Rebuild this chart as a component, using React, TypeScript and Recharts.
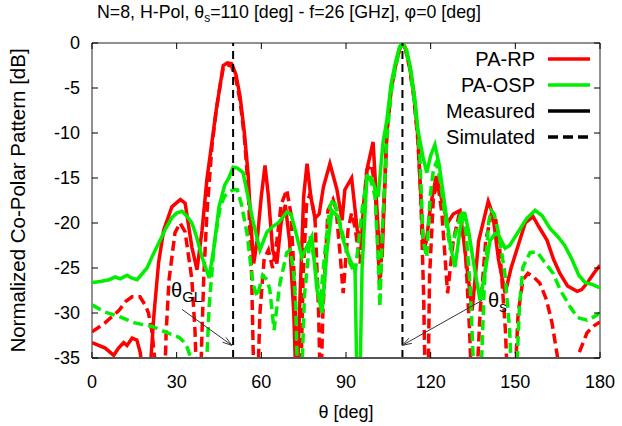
import React from 'react';
import { LineChart, Line, XAxis, YAxis, ReferenceLine, ReferenceArea, Legend } from 'recharts';

const FONT = '"Liberation Sans", Arial, Helvetica, sans-serif';
const RED = '#ff0000';
const GREEN = '#00ee00';

// plot box in page pixels (only used for the mirrored tick marks)
const PL = 92;
const PR = 600;
const PT = 43;
const PB = 358;

// PA-RP, measured (values below -35 fall off the bottom)
const rpMeasTheta = [0, 4.7, 7.7, 9.4, 11.2, 12.4, 14.2, 15.9, 17.1, 17.7, 19.8, 22, 23.6, 25.4, 28.3, 31.3, 33, 35.4, 37.2, 39, 40.7, 42.5, 44, 45.5, 46.5, 48, 49.5, 51, 52.5, 54, 55.3, 56.3, 57.3, 58.5, 60, 61.3, 62.5, 64, 65.5, 67, 68.5, 70, 71.5, 72.5, 73.5, 75, 76.2, 77.5, 79, 80.5, 82, 84.3, 86.8, 88.6, 89.6, 92, 94, 95.7, 97.4, 99.6, 101.4, 102.8, 104.5, 106, 107.5, 109, 110, 111, 112.5, 114, 115.5, 116.5, 117.5, 118.5, 120, 122, 124, 126, 128, 130.4, 132.5, 134.7, 137, 140.4, 142, 144, 146.4, 148.5, 151, 153.5, 156.3, 158.5, 161.2, 163.5, 165.8, 168.5, 171.9, 173.5, 175.4, 178, 180];
const rpMeasDb = [-33.3, -33.9, -34.7, -33.9, -33.3, -33.6, -32.8, -33, -34.4, -36, -40, -30, -24.4, -20.8, -18.2, -17.4, -17.8, -22.7, -25.2, -20.8, -15.2, -11, -7.5, -4.5, -2.5, -2.2, -2.3, -3.5, -6, -10, -14.5, -20, -24.5, -22, -17, -13.6, -17, -23, -24.5, -20, -18, -22, -30, -40, -30, -17, -13.4, -17, -19.5, -19, -16, -13.4, -16.3, -19.7, -16.3, -15, -20.8, -21.9, -14.1, -11, -20.8, -23.8, -9.7, -5, -2.5, -0.6, 0, -0.5, -2.5, -5.5, -10.5, -17, -23, -22, -18, -14.8, -17.5, -20, -19, -18.6, -24, -29.7, -22, -17.6, -19, -24, -27.8, -25, -22.5, -20, -19.3, -20.5, -21.9, -24, -25.6, -27, -27.6, -27.4, -26.7, -25.5, -24.7];

// PA-RP, simulated
const rpSimTheta = [0, 4.6, 9.6, 12, 14.2, 17, 19, 20, 21.2, 22.2, 23, 25.5, 26.3, 27.3, 29.4, 31.2, 33, 35.4, 36.5, 37.3, 38.2, 39.6, 40.7, 42.5, 44, 45.5, 46.5, 48, 49.5, 51, 52.5, 54, 55.3, 56.5, 57.5, 58.5, 59.5, 61, 62.5, 64, 65.5, 67, 69, 70.5, 71.8, 72.8, 73.8, 74.8, 76, 77.3, 79, 80.3, 81, 81.8, 83.6, 85.4, 86.5, 88, 89, 90.7, 92, 93.2, 95, 96.2, 97.4, 99, 100.3, 101.4, 102, 102.8, 104.5, 106, 107.5, 109, 110, 111, 112.5, 114, 115.5, 116.5, 117.5, 118.2, 119, 119.6, 121, 122.5, 124, 126, 128, 130.4, 132.3, 133.8, 134.7, 136, 137.5, 139.5, 141.5, 143, 144.5, 146.5, 147.5, 149.5, 151, 152.7, 154.5, 156.5, 158.7, 161, 163, 165, 166, 171, 172.5, 175.4, 178, 180];
const rpSimDb = [-32.1, -31.1, -29.7, -28.7, -28.2, -28.2, -29.2, -30, -32, -35, -40, -40, -32, -26.3, -21.1, -20, -21, -26.3, -32, -40, -40, -26, -19, -11.5, -7.5, -4.5, -2.8, -2.4, -2.6, -4, -6.5, -10.5, -16, -25, -40, -40, -30, -24, -23, -25, -22, -18, -16.3, -19, -27, -40, -40, -26, -18, -16.7, -19.3, -30, -40, -30, -18.6, -17.4, -18.5, -23.8, -27.8, -20.8, -18.9, -20.5, -24.5, -18, -14.1, -13.5, -16, -23.3, -27.4, -22, -10, -5.2, -2.6, -0.7, 0, -0.6, -2.7, -6, -11, -17, -28, -40, -40, -26, -17, -15.5, -19, -27.8, -22, -18.6, -23, -32, -40, -40, -30, -22, -19, -19.5, -23, -32, -40, -40, -30, -26.3, -25.6, -26, -26.7, -28.5, -31.1, -35, -40, -40, -34.5, -32.2, -31.4, -31];

// PA-OSP, measured
const ospMeasTheta = [0, 3, 6, 8.3, 10, 12.4, 14, 16, 19.5, 21.5, 23.7, 26, 28.3, 30, 31.9, 33.5, 35.4, 37, 39, 41.5, 43.2, 45, 47, 48.5, 50, 51.5, 53.5, 55.3, 57, 59.5, 62, 64, 66, 69, 70.5, 72.6, 74.4, 76, 77.9, 79.7, 81.5, 83.3, 85, 87.2, 89, 91.4, 93.2, 94, 94.8, 95.7, 97.4, 99, 101.4, 103.1, 104.5, 106, 107.5, 109, 110, 111.5, 113, 114.5, 115.5, 117.3, 118.6, 120, 121.5, 123, 125, 127, 128.6, 130.5, 132, 133.5, 135.5, 137.5, 139.5, 141, 142.8, 144, 146.4, 148, 151, 154, 157, 159.5, 162.3, 165, 167.5, 170, 172.5, 174.7, 177, 180];
const ospMeasDb = [-26.6, -26.5, -26.3, -26, -26.2, -25.8, -26.1, -26.3, -25, -23.6, -22.2, -20.7, -19.4, -18.9, -18.7, -19.2, -20, -21.5, -23.8, -26.1, -22.7, -18.2, -15.8, -15, -13.8, -13.9, -14.4, -17.1, -19.7, -23, -21, -20.4, -20, -18.8, -19, -21.5, -23.8, -22.7, -21.5, -27.4, -30, -23, -18.6, -19.3, -21.9, -24.1, -25.2, -40, -40, -25, -14.9, -15, -17.1, -11.1, -8.5, -4.5, -2.2, -0.4, 0, -0.8, -3, -6.5, -9.7, -12.7, -14.4, -12.5, -11.3, -13.5, -18, -22.5, -24.9, -20.5, -18.8, -21, -25, -28.6, -25, -22, -21.2, -21.3, -22.8, -22.5, -21, -19.5, -18.6, -19.2, -20.6, -21.5, -22.5, -24, -25.8, -26.6, -26.8, -27.2];

// PA-OSP, simulated
const ospSimTheta = [0, 4.6, 9.6, 15.2, 21.3, 25.9, 30.8, 32.5, 33.7, 35, 36, 40, 41.5, 43.2, 45.4, 47, 48.5, 50, 51.5, 53, 54.9, 57, 58.5, 60.5, 62, 63, 64.5, 66.6, 69, 70.2, 71.3, 72.2, 73, 74, 75.3, 77.3, 79, 80.8, 82.6, 84.3, 85.5, 86.8, 89, 91.4, 93.2, 96, 97.8, 99, 100.3, 101.4, 102, 103, 104.5, 106, 107.5, 109, 110, 111, 112.5, 114, 115.5, 116.2, 117.3, 118.6, 119.8, 121, 122, 123.5, 125, 127, 129, 131, 132.5, 134, 135.7, 137.5, 139, 140.5, 141.4, 142.5, 144, 146.3, 148, 149, 150, 151.5, 152.7, 155.2, 157.7, 160, 163.4, 166, 169.4, 172, 175.4, 178, 180];
const ospSimDb = [-29.1, -29.9, -30.4, -31.1, -31.5, -32.1, -32.7, -33.2, -33.8, -35, -40, -40, -29.3, -22.7, -18.2, -17, -16.6, -16.3, -16.3, -18, -21.1, -26.7, -28.2, -25.8, -26.3, -27.4, -31.9, -26.7, -23.3, -23, -25, -29, -40, -40, -28, -21.5, -24.5, -29, -23, -18.2, -17.3, -18.6, -21.5, -24.5, -25.6, -17.8, -14.4, -15.5, -17.1, -24.1, -29.3, -20, -10.5, -5.5, -2.8, -0.7, 0, -0.5, -2.5, -6, -10, -12.7, -21.9, -23.8, -17.1, -14, -13.3, -15.5, -19, -23, -21, -18.6, -21, -27, -40, -40, -27, -20, -18.6, -19, -21, -25.6, -32, -40, -40, -29, -24.9, -23.3, -23.2, -24.2, -25.6, -27.5, -29.3, -30.5, -30.8, -30.4, -30];

const xTicks = [0, 30, 60, 90, 120, 150, 180];
const yTicks = [-35, -30, -25, -20, -15, -10, -5, 0];

// vertical markers: grating lobe direction and scan direction
const markerThetas = [50, 110];
// annotation arrows [tail, head] in (theta, dB)
const glArrow = [{ x: 31.9, y: -29.6 }, { x: 49.6, y: -33.6 }];
const sArrow = [{ x: 138.2, y: -28.6 }, { x: 109.9, y: -33.6 }];

const toPoints = (theta: number[], db: number[]) => theta.map((t, i) => ({ theta: t, db: db[i] }));
const rpMeas = toPoints(rpMeasTheta, rpMeasDb);
const rpSim = toPoints(rpSimTheta, rpSimDb);
const ospMeas = toPoints(ospMeasTheta, ospMeasDb);
const ospSim = toPoints(ospSimTheta, ospSimDb);

const legendRows = [
  { label: 'PA-RP', color: RED, dash: undefined },
  { label: 'PA-OSP', color: GREEN, dash: undefined },
  { label: 'Measured', color: '#000', dash: undefined },
  { label: 'Simulated', color: '#000', dash: '10 5' },
];

function YTick({ x, y, payload }: any) {
  return (
    <g>
      <text x={x} y={y} dy={6} textAnchor="end" fontSize={18} fontFamily={FONT} fill="#000">
        {payload.value}
      </text>
      <line x1={PL} x2={PL + 6} y1={y} y2={y} stroke="#000" />
      <line x1={PR - 6} x2={PR} y1={y} y2={y} stroke="#000" />
    </g>
  );
}

function XTick({ x, y, payload }: any) {
  return (
    <g>
      <text x={x} y={y} dy={30} textAnchor="middle" fontSize={18} fontFamily={FONT} fill="#000">
        {payload.value}
      </text>
      <line x1={x} x2={x} y1={PB} y2={PB - 6} stroke="#000" />
      <line x1={x} x2={x} y1={PT} y2={PT + 6} stroke="#000" />
    </g>
  );
}

// thin annotation arrow with an open head and a theta label at its tail
function makeArrow(sub: string, dx: number, dy: number) {
  return (props: any) => {
    const { x1, y1, x2, y2 } = props;
    const ang = Math.atan2(y2 - y1, x2 - x1);
    const len = 10;
    const spread = 0.3;
    const ax = x2 - len * Math.cos(ang - spread);
    const ay = y2 - len * Math.sin(ang - spread);
    const bx = x2 - len * Math.cos(ang + spread);
    const by = y2 - len * Math.sin(ang + spread);
    return (
      <g>
        <line x1={x1} y1={y1} x2={x2} y2={y2} stroke="#333" strokeWidth={1} />
        <polyline points={`${ax},${ay} ${x2},${y2} ${bx},${by}`} fill="none" stroke="#333" strokeWidth={1} />
        <text x={x1 + dx} y={y1 + dy} fontFamily={FONT} fill="#000">
          <tspan fontSize={20}>θ</tspan>
          <tspan fontSize={15} dy={5}>{sub}</tspan>
        </text>
      </g>
    );
  };
}

function LegendBox() {
  return (
    <svg width={180} height={110}>
      {legendRows.map((r, i) => {
        const cy = 14 + i * 26;
        return (
          <g key={r.label}>
            <text x={115} y={cy + 7} textAnchor="end" fontSize={20} fontFamily={FONT} fill="#000">
              {r.label}
            </text>
            <line x1={128} x2={170} y1={cy} y2={cy} stroke={r.color} strokeWidth={3.5} strokeDasharray={r.dash} />
          </g>
        );
      })}
    </svg>
  );
}

export default function App() {
  return (
    <div style={{ position: 'absolute', left: 0, top: 0, width: 622, height: 426, background: '#fff' }}>
      <div
        style={{
          position: 'absolute',
          left: 97,
          top: 2,
          fontFamily: FONT,
          fontSize: 17.8,
          lineHeight: '20px',
          whiteSpace: 'nowrap',
          color: '#000',
        }}
      >
        N=8, H-Pol, θ<sub style={{ fontSize: 12, verticalAlign: '-4px' }}>s</sub>=110 [deg] - f=26 [GHz], φ=0 [deg]
      </div>
      <LineChart width={622} height={426} margin={{ top: 43, right: 22, bottom: 38, left: 32 }}>
        <XAxis
          type="number"
          dataKey="theta"
          domain={[0, 180]}
          ticks={xTicks}
          allowDataOverflow
          height={30}
          tickSize={0}
          tickMargin={0}
          tick={<XTick />}
          axisLine={{ stroke: '#555', strokeWidth: 2 }}
          label={{
            content: ({ viewBox }: any) => (
              <text x={viewBox.x + viewBox.width / 2} y={418} textAnchor="middle" fontSize={18} fontFamily={FONT} fill="#000">
                θ [deg]
              </text>
            ),
          }}
        />
        <YAxis
          type="number"
          domain={[-35, 0]}
          ticks={yTicks}
          allowDataOverflow
          width={60}
          tickSize={0}
          tickMargin={12}
          tick={<YTick />}
          axisLine={false}
          label={{
            content: ({ viewBox }: any) => {
              const cy = viewBox.y + viewBox.height / 2;
              return (
                <text
                  x={25}
                  y={cy}
                  transform={`rotate(-90 25 ${cy})`}
                  textAnchor="middle"
                  fontSize={20.5}
                  fontFamily={FONT}
                  fill="#000"
                >
                  Normalized Co-Polar Pattern [dB]
                </text>
              );
            },
          }}
        />
        <ReferenceArea x1={0} x2={180} y1={-35} y2={0} fill="none" stroke="#222" strokeWidth={1} />
        <Line data={rpMeas} dataKey="db" stroke={RED} strokeWidth={3.5} dot={false} isAnimationActive={false} />
        <Line data={rpSim} dataKey="db" stroke={RED} strokeWidth={3.5} strokeDasharray="10 5" dot={false} isAnimationActive={false} />
        <Line data={ospMeas} dataKey="db" stroke={GREEN} strokeWidth={3.5} dot={false} isAnimationActive={false} />
        <Line data={ospSim} dataKey="db" stroke={GREEN} strokeWidth={3.5} strokeDasharray="10 5" dot={false} isAnimationActive={false} />
        {markerThetas.map((t) => (
          <ReferenceLine key={t} x={t} stroke="#000" strokeWidth={2} strokeDasharray="8 5" />
        ))}
        <ReferenceLine segment={glArrow} shape={makeArrow('GL', -11, -12)} />
        <ReferenceLine segment={sArrow} shape={makeArrow('s', 6, 7)} />
        <Legend
          layout="horizontal"
          verticalAlign="middle"
          align="center"
          wrapperStyle={{ position: 'absolute', left: 420, top: 45, width: 180, height: 110 }}
          content={() => <LegendBox />}
        />
      </LineChart>
    </div>
  );
}
